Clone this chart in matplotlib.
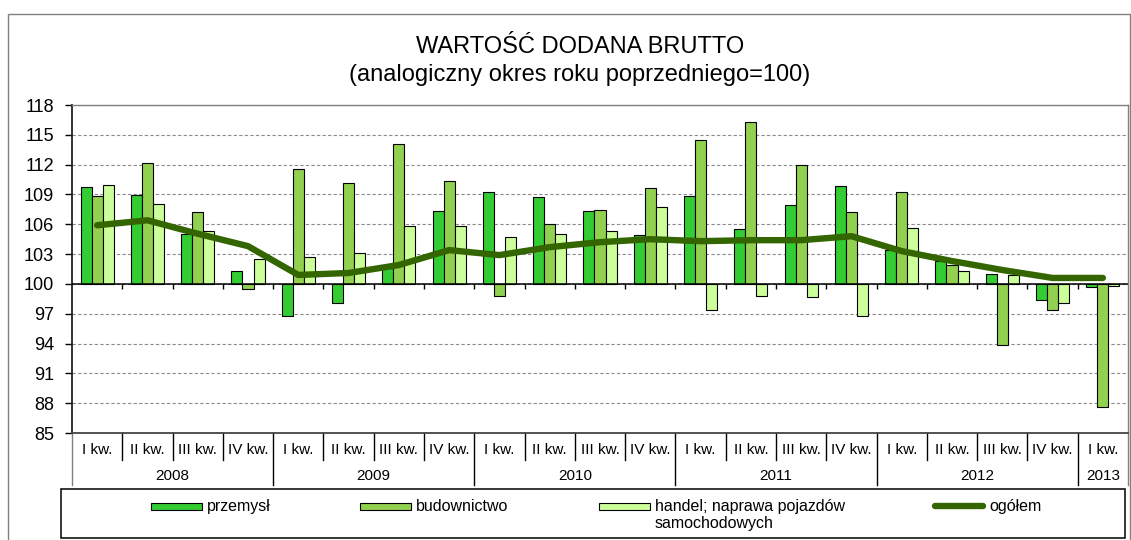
import matplotlib
matplotlib.use("Agg")
import matplotlib.pyplot as plt
import matplotlib.transforms as mtransforms
from matplotlib.patches import Rectangle
from matplotlib.lines import Line2D
import numpy as np

plt.rcParams['font.family'] = ['Liberation Sans', 'DejaVu Sans']

# kwartały 2008 I - 2013 I
quarters = ["I kw.", "II kw.", "III kw.", "IV kw."] * 5 + ["I kw."]
years = ["2008", "2009", "2010", "2011", "2012", "2013"]
year_counts = [4, 4, 4, 4, 4, 1]

series_names = ["przemysł", "budownictwo", "handel; naprawa pojazdów\nsamochodowych", "ogółem"]

przemysl = [109.8, 108.9, 105.0, 101.3, 96.8, 98.1, 101.6, 107.3, 109.2, 108.7, 107.3,
            104.9, 108.8, 105.5, 107.9, 109.9, 103.4, 102.3, 101.0, 98.4, 99.7]
budownictwo = [108.8, 112.2, 107.2, 99.5, 111.6, 110.2, 114.1, 110.4, 98.8, 106.0, 107.4,
               109.6, 114.5, 116.3, 112.0, 107.2, 109.2, 101.9, 93.9, 97.4, 87.6]
handel = [110.0, 108.0, 105.3, 102.5, 102.7, 103.1, 105.8, 105.8, 104.7, 105.0, 105.3,
          107.7, 97.4, 98.8, 98.7, 96.8, 105.6, 101.3, 100.9, 98.1, 99.8]
ogolem = [105.9, 106.4, 105.05, 103.8, 100.9, 101.1, 101.9, 103.4, 102.9, 103.7, 104.2,
          104.5, 104.3, 104.4, 104.4, 104.8, 103.3, 102.3, 101.4, 100.6, 100.6]

colors = ["#33CC33", "#92D050", "#CCFF99", "#336600"]

W, H = 1131, 540
fig = plt.figure(figsize=(W / 100, H / 100), dpi=100)


def fx(px):
    return px / W


def fy(py):
    return 1 - py / H


# obszar wykresu
ax_l, ax_r, ax_t, ax_b = 72, 1128, 105, 433
ax = fig.add_axes([fx(ax_l), fy(ax_b), fx(ax_r - ax_l), (ax_b - ax_t) / H])

n = len(quarters)
x = np.arange(n)
bw = 0.22
base = 100
for i, vals in enumerate([przemysl, budownictwo, handel]):
    ax.bar(x + (i - 1) * bw, np.array(vals) - base, bottom=base, width=bw,
           color=colors[i], edgecolor="black", linewidth=0.8, zorder=2)

ax.axhline(base, color="black", lw=1.1, zorder=3)
# znaczniki osi kategorii na linii 100
ax.vlines(np.arange(n - 1) + 0.5, base - 0.5, base, color="black", lw=1, zorder=3)

ax.plot(x, ogolem, color=colors[3], lw=4.6, solid_capstyle="round",
        solid_joinstyle="round", zorder=4)

ax.set_xlim(-0.5, n - 0.5)
ax.set_ylim(85, 118)
ax.set_yticks(np.arange(85, 119, 3))
ax.set_xticks([])
ax.tick_params(axis="y", direction="out", length=5, width=1, labelsize=13, pad=8)
ax.yaxis.grid(True, linestyle=(0, (3, 2)), color="#8c8c8c", lw=0.8, zorder=0)
ax.set_axisbelow(True)
for side in ["top", "right"]:
    ax.spines[side].set_color("#808080")
    ax.spines[side].set_linewidth(1)
ax.spines["left"].set_color("#222222")
ax.spines["left"].set_linewidth(1.3)
ax.spines["bottom"].set_color("#444444")
ax.spines["bottom"].set_linewidth(1.3)

# etykiety kategorii pod osią
trans = mtransforms.blended_transform_factory(ax.transData, ax.transAxes)
h_ax = ax_b - ax_t
row1_y = -(450 - ax_b) / h_ax
row2_y = -(476 - ax_b) / h_ax
sep1 = -(460 - ax_b) / h_ax
sep2 = -(485 - ax_b) / h_ax

for i, q in enumerate(quarters):
    ax.text(i, row1_y, q, transform=trans, ha="center", va="center", fontsize=11)

year_edges = np.concatenate([[0], np.cumsum(year_counts)])
for j, yr in enumerate(years):
    mid = (year_edges[j] + year_edges[j + 1] - 1) / 2
    ax.text(mid, row2_y, yr, transform=trans, ha="center", va="center", fontsize=11)

for b in range(1, n):
    bottom_y = sep2 if b in year_edges else sep1
    ax.add_line(Line2D([b - 0.5, b - 0.5], [0, bottom_y], transform=trans,
                       color="black", lw=1, clip_on=False))
for b in [-0.5, n - 0.5]:
    ax.add_line(Line2D([b, b], [0, sep2], transform=trans, color="#808080", lw=1,
                       clip_on=False))

# tytuł
fig.text(fx(580), fy(47), "WARTOŚĆ DODANA BRUTTO", ha="center", va="center", fontsize=17)
fig.text(fx(580), fy(75), "(analogiczny okres roku poprzedniego=100)", ha="center",
         va="center", fontsize=17)

# ramka całego wykresu
fig.patches.append(Rectangle((fx(8), fy(560)), fx(1122), (560 - 14) / H, fill=False,
                             edgecolor="#808080", lw=1, transform=fig.transFigure))

# legenda
fig.patches.append(Rectangle((fx(61), fy(538)), fx(1064), 49 / H, fill=False,
                             edgecolor="black", lw=1.1, transform=fig.transFigure))
leg_x = [151, 360, 599, 933]
for i, name in enumerate(series_names):
    x0 = leg_x[i]
    if i < 3:
        fig.patches.append(Rectangle((fx(x0), fy(509.5)), fx(51), 7 / H, facecolor=colors[i],
                                     edgecolor="black", lw=0.8, transform=fig.transFigure))
    else:
        fig.lines.append(Line2D([fx(x0 + 2), fx(x0 + 50)], [fy(506), fy(506)], color=colors[3],
                                lw=4.6, solid_capstyle="round", transform=fig.transFigure))
    fig.text(fx(x0 + 56), fy(499), name, ha="left", va="top", fontsize=11.5,
             linespacing=1.2)

fig.savefig("out.png", dpi=100)
